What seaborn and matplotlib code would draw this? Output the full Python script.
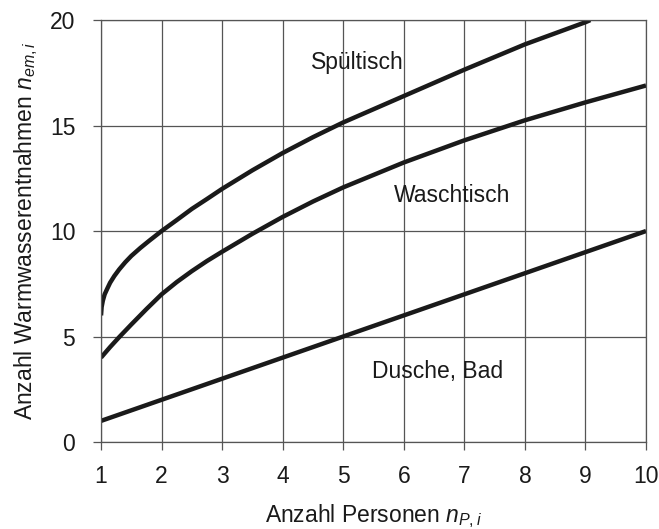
import pandas as pd
import matplotlib
matplotlib.use("Agg")
import matplotlib.pyplot as plt
import seaborn as sns

# Values
personen = [1, 2, 3, 4, 5, 6, 7, 8, 9, 10]
spueltisch_x = [1.0, 1.01, 1.03, 1.06, 1.1, 1.15, 1.22, 1.3, 1.4, 1.5, 1.65, 1.8, 2, 2.25, 2.5, 2.75, 3, 3.5, 4, 4.5, 5, 6, 7, 8, 9, 9.08]
spueltisch_y = [6.0, 6.4, 6.7, 7.0, 7.25, 7.55, 7.87, 8.18, 8.52, 8.82, 9.2, 9.55, 10.0, 10.52, 11.05, 11.52, 12.0, 12.88, 13.7, 14.45, 15.15, 16.4, 17.65, 18.85, 19.9, 20.0]
waschtisch_x = [1.0, 1.15, 1.3, 1.5, 1.75, 2, 2.25, 2.5, 2.75, 3, 3.5, 4, 4.5, 5, 6, 7, 8, 9, 10]
waschtisch_y = [4.0, 4.5, 4.97, 5.57, 6.3, 7.0, 7.58, 8.1, 8.58, 9.02, 9.87, 10.67, 11.4, 12.07, 13.25, 14.3, 15.25, 16.1, 16.9]
dusche_y = [1, 2, 3, 4, 5, 6, 7, 8, 9, 10]

labels = ["Spültisch", "Waschtisch", "Dusche, Bad"]
label_x = [5.23, 6.79, 6.55]
label_y = [18.0, 11.7, 3.33]

sns.set_style("ticks")
plt.rcParams['font.family'] = ['Liberation Sans', 'DejaVu Sans']
plt.rcParams['mathtext.fontset'] = 'custom'
plt.rcParams['mathtext.it'] = 'Liberation Sans:italic'
plt.rcParams['mathtext.rm'] = 'Liberation Sans'

fig = plt.figure(figsize=(6.59, 5.29), dpi=100)
ax = fig.add_axes([0.1533, 0.1645, 0.827, 0.7975])

df_sp = pd.DataFrame({'x': spueltisch_x, 'y': spueltisch_y})
df_wa = pd.DataFrame({'x': waschtisch_x, 'y': waschtisch_y})
df_du = pd.DataFrame({'x': personen, 'y': dusche_y})

for d in (df_sp, df_wa, df_du):
    sns.lineplot(data=d, x='x', y='y', ax=ax, color='#1a1a1a', lw=3.2,
                 sort=False, estimator=None, solid_capstyle='butt',
                 solid_joinstyle='round')

for t, tx, ty in zip(labels, label_x, label_y):
    ax.text(tx, ty, t, ha='center', va='center', fontsize=16.5, color='#1a1a1a')

ax.set_xlim(1, 10)
ax.set_ylim(0, 20)
ax.set_xticks(personen)
ax.set_yticks([0, 5, 10, 15, 20])
ax.grid(True, color='#555555', lw=0.9)
for s in ax.spines.values():
    s.set_color('#555555')
    s.set_linewidth(0.9)
ax.tick_params(direction='out', length=6, width=0.9, color='#555555',
               labelsize=16.5, labelcolor='#1a1a1a')
ax.tick_params(axis='x', pad=10.5)
ax.tick_params(axis='y', pad=12.5)
ax.set_xlabel(r"Anzahl Personen $n_{P,i}$", fontsize=16.5, color='#1a1a1a', labelpad=10.5)
ax.set_ylabel(r"Anzahl Warmwasserentnahmen $n_{em,i}$", fontsize=16.5, color='#1a1a1a', labelpad=7)

plt.savefig("out.png", dpi=100)
